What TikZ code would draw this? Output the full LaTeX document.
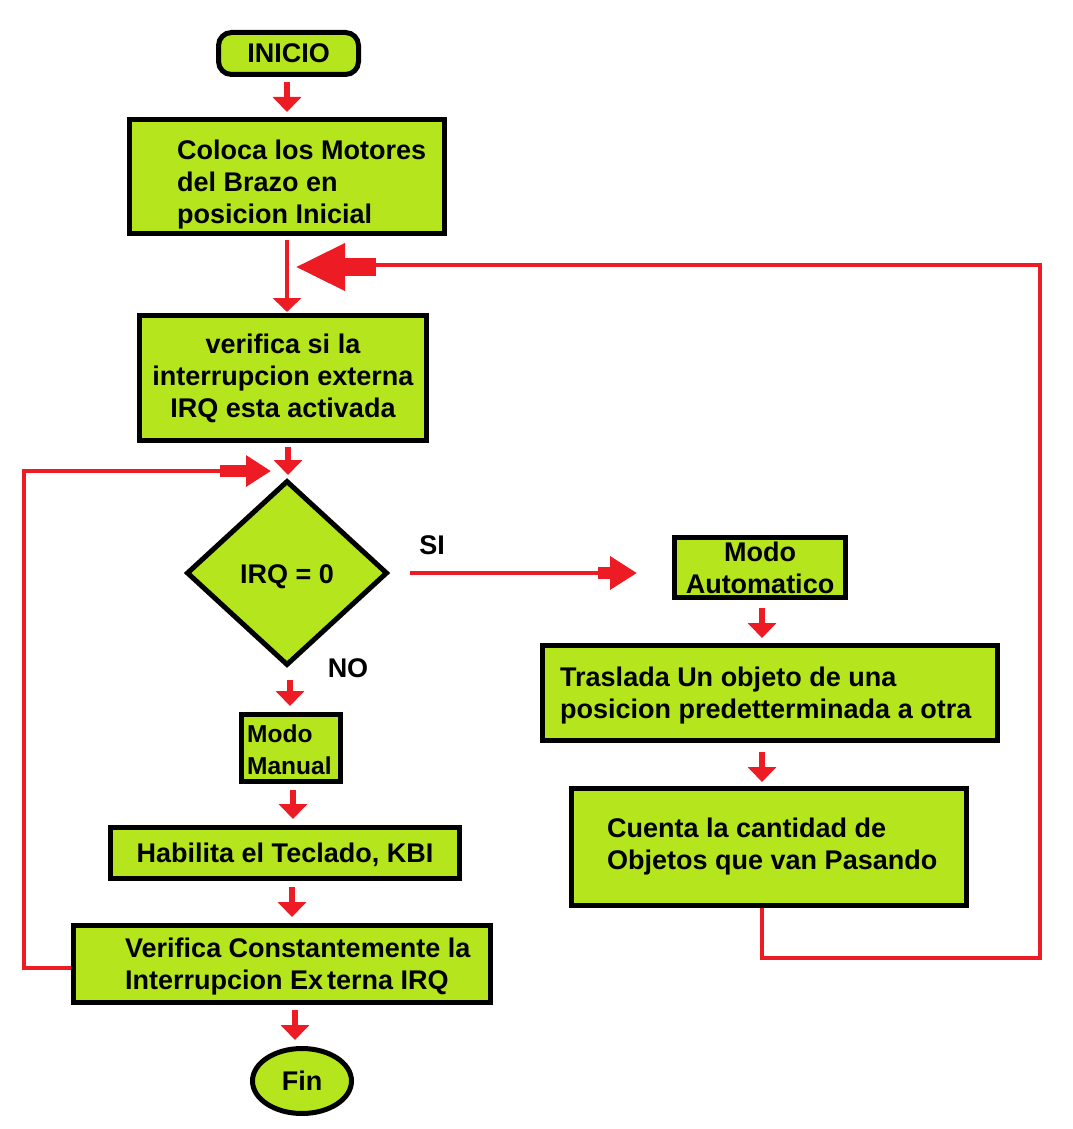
\documentclass[tikz,border=0pt]{standalone}
\usepackage{fontspec}
\setmainfont{Liberation Sans}
\usetikzlibrary{arrows.meta,shapes.geometric,calc}
\definecolor{lime}{HTML}{B5E61D}
\definecolor{pred}{HTML}{ED1C24}
\begin{document}
\begin{tikzpicture}[x=1pt,y=-1pt,
  lbl/.style={font=\fontsize{27}{32}\selectfont\bfseries, text=black},
  box/.style={draw=black, line width=5pt, fill=lime, inner sep=0pt, lbl, align=center},
  txt/.style={lbl, align=left, inner sep=0pt, anchor=west},
  sarr/.style={draw=pred, line width=6pt, -{Triangle[width=28pt,length=15pt]}},
  rline/.style={draw=pred, line width=4pt}]
\useasboundingbox[fill=white] (0,0) rectangle (1072,1129);

% nodes
\node[box, rounded corners=13pt, minimum width=140pt, minimum height=42pt] (ini) at (288.5,53.5) {INICIO};
\node[box, minimum width=315pt, minimum height=114pt] (col) at (287,176.5) {};
\node[txt] (tcol) at (177,185) {Coloca los Motores\\del Brazo en\\posicion Inicial};
\node[box, minimum width=287pt, minimum height=125pt] (ver) at (283,378) {verifica si la\\interrupcion externa\\IRQ esta activada};
\node[box, shape=diamond, minimum width=201pt, minimum height=185pt] (irq) at (287,573) {\raisebox{-4pt}[\height][\depth]{IRQ = 0}};
\node[box, minimum width=99pt, minimum height=67pt] (man) at (291,748) {};
\node[txt, font=\fontsize{24.5}{32}\selectfont\bfseries] (tman) at (247,750) {Modo\\Manual};
\node[box, minimum width=349pt, minimum height=51pt] (hab) at (285,853) {\raisebox{-2pt}[\height][\depth]{Habilita el Teclado, KBI}};
\node[box, minimum width=417pt, minimum height=77pt] (vct) at (282,964) {};
\node[txt] (tvct) at (125,966.5) {Verifica Constantemente la\\Interrupcion Ex\kern4pt terna IRQ};
\node[box, shape=ellipse, minimum width=99pt, minimum height=65pt] (fin) at (302,1081) {Fin};
\node[box, minimum width=171pt, minimum height=60pt] (aut) at (760,567.5) {Modo\\Automatico};
\node[box, minimum width=455pt, minimum height=95pt] (tra) at (770,693) {};
\node[txt] (ttra) at (560,696) {Traslada Un objeto de una\\posicion predetterminada a otra};
\node[box, minimum width=395pt, minimum height=117pt] (cue) at (769,847) {};
\node[txt] (tcue) at (607,847) {Cuenta la cantidad de\\Objetos que van Pasando};
\node[lbl] (si) at (432,545) {SI};
\node[lbl] (no) at (348,668) {NO};

% short arrows
\draw[sarr, shorten <=5pt, shorten >=5pt] (ini.south -| 287,0) -- (col.north -| 287,0);
\draw[draw=pred, line width=4pt, -{Triangle[width=28pt,length=14pt]}, shorten <=4pt, shorten >=1pt] (col.south -| 287,0) -- (ver.north -| 287,0);
\draw[sarr, shorten <=4pt, shorten >=3pt] (ver.south -| 288,0) -- (irq.north -| 288,0);
\draw[sarr, shorten <=12pt, shorten >=6pt] (irq.south -| 290,0) -- (man.north -| 290,0);
\draw[sarr, shorten <=6pt, shorten >=6pt] (man.south -| 293,0) -- (hab.north -| 293,0);
\draw[sarr, shorten <=6pt, shorten >=6pt] (hab.south -| 292,0) -- (vct.north -| 292,0);
\draw[sarr, shorten <=5pt, shorten >=6pt] (vct.south -| 295,0) -- (fin.north -| 295,0);
\draw[sarr, shorten <=8pt, shorten >=5pt] (aut.south -| 762,0) -- (tra.north -| 762,0);
\draw[sarr, shorten <=9pt, shorten >=4pt] (tra.south -| 762,0) -- (cue.north -| 762,0);

% SI connector
\draw[rline, shorten <=20pt] (irq.east) -- (600,573);
\draw[pred, line width=12pt, -{Triangle[width=32pt,length=27pt]}, shorten >=35pt] (598,573) -- (aut.west |- irq.east);

% loop back to the top
\coordinate (tj) at (287,267);
\draw[rline, line join=miter] (cue.south -| 762,0) -- (762,958) -- (1040,958) -- (1040,265) -- (376,265);
\draw[pred, line width=18pt, -{Triangle[width=44pt,length=50pt]}, shorten >=8pt] (376,267) -- (tj);

% loop back to the decision
\coordinate (lj) at (288,471);
\draw[rline, line join=miter] (vct.west |- 0,968) -- (24,968) -- (24,471) -- (222,471);
\draw[pred, line width=12pt, -{Triangle[width=30pt,length=25pt]}, shorten >=17pt] (220,471) -- (lj);
\end{tikzpicture}
\end{document}
